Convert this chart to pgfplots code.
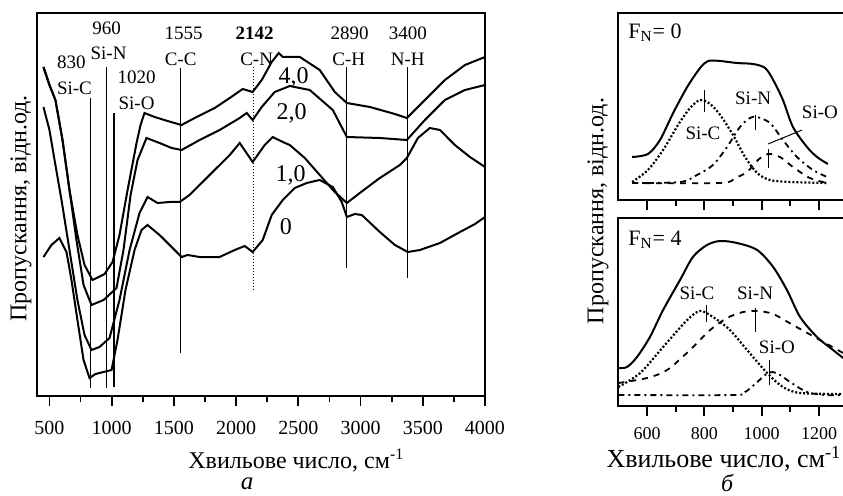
\documentclass[border=0pt]{standalone}
\usepackage{fontspec}
\setmainfont{Liberation Serif}
\usepackage{pgfplots}
\pgfplotsset{compat=1.18}

\newcommand\fa{\fontsize{9.5}{11}\selectfont}
\newcommand\fc{\fontsize{12}{14}\selectfont}

\pgfplotsset{
  spec/.style={
    scale only axis, clip=false,
    axis line style={line width=1pt},
    ytick=\empty, xtick pos=bottom, tick align=outside,
    major tick length=5pt, minor tick length=3pt,
    tick style={black, line width=0.9pt},
    /pgf/number format/assume math mode=true,
    /pgf/number format/1000 sep={},
  },
  cv/.style={black, solid, line width=1pt, no markers},
  mk/.style={black, solid, line width=0.5pt, no markers},
}

\begin{document}
\begin{tikzpicture}
\useasboundingbox (0,0) rectangle (421.5pt,247.5pt);

% ---------- panel a ----------
\begin{axis}[spec, at={(18.5pt,49.5pt)}, anchor=south west,
  width=224pt, height=191.5pt,
  xmin=400, xmax=4000, ymin=0, ymax=383,
  xtick={500,1000,...,4000}, minor x tick num=1,
  xticklabel style={yshift=-4pt},
  tick label style={font=\fontsize{10}{12}\selectfont}]

% band positions
\addplot[mk] coordinates {(830,8) (830,298)};
\addplot[mk] coordinates {(960,8) (960,329)};
\addplot[mk, line width=0.9pt] coordinates {(1020,9) (1020,283)};
\addplot[mk] coordinates {(1550,43) (1550,328)};
\addplot[mk, densely dotted] coordinates {(2140,106) (2140,329)};
\addplot[mk] coordinates {(2890,128) (2890,329)};
\addplot[mk] coordinates {(3380,118) (3380,329)};

% 4,0
\addplot[cv] coordinates {(452,329) (500,311) (548,296) (605,256) (661,206) (725,161)
 (782,131) (846,116) (943,122) (1007,134) (1063,161) (1128,206) (1200,253)
 (1232,271) (1264,283) (1345,279) (1449,275) (1562,271) (1667,278) (1828,288)
 (1949,298) (2053,307) (2133,304) (2206,316) (2286,334) (2343,343) (2375,339)
 (2512,339) (2672,326) (2793,304) (2890,293) (3075,289) (3276,282) (3372,278)
 (3517,296) (3678,316) (3839,331) (4000,339)};
% 2,0
\addplot[cv] coordinates {(452,329) (500,311) (548,296) (605,256) (661,206) (717,156)
 (774,111) (838,91) (935,96) (1039,108) (1095,146) (1152,201) (1208,236)
 (1280,258) (1385,253) (1482,248) (1562,246) (1707,256) (1868,266) (2029,278)
 (2085,283) (2133,276) (2206,289) (2310,304) (2431,310) (2592,306) (2777,286)
 (2890,259) (3155,258) (3372,256) (3517,276) (3678,296) (3839,306) (4000,311)};
% 1,0
\addplot[cv] coordinates {(452,289) (500,266) (548,231) (597,196) (661,146) (725,96)
 (782,61) (838,46) (902,49) (983,58) (1063,96) (1144,146) (1224,183) (1288,199)
 (1369,193) (1466,194) (1546,194) (1626,201) (1787,221) (1949,241) (2029,253)
 (2133,234) (2230,251) (2294,259) (2375,254) (2431,251) (2552,238) (2672,221)
 (2793,204) (2890,193) (2994,203) (3155,218) (3316,231) (3372,238) (3461,258)
 (3557,268) (3638,266) (3758,251) (3879,239) (4000,229)};
% 0
\addplot[cv] coordinates {(452,139) (516,151) (580,158) (637,144) (677,116) (725,76)
 (774,36) (822,18) (870,22) (934,24) (999,26) (1047,56) (1111,106) (1184,146)
 (1240,166) (1288,171) (1385,161) (1482,149) (1562,139) (1610,141) (1707,139)
 (1868,139) (1989,146) (2069,150) (2133,144) (2214,156) (2286,181) (2375,196)
 (2471,208) (2568,213) (2672,216) (2777,209) (2849,194) (2890,179) (2954,182)
 (3010,181) (3155,164) (3276,151) (3380,144) (3477,146) (3638,153) (3799,164)
 (3920,172) (4000,179)};

\node[font=\fa] at (axis cs:677,334) {830};
\node[font=\fa] at (axis cs:701,308) {Si-C};
\node[font=\fa] at (axis cs:959,368) {960};
\node[font=\fa] at (axis cs:975,343) {Si-N};
\node[font=\fa] at (axis cs:1200,319) {1020};
\node[font=\fa] at (axis cs:1200,293) {Si-O};
\node[font=\fa] at (axis cs:1578,363) {1555};
\node[font=\fa] at (axis cs:1554,337) {C-C};
\node[font=\fa\bfseries] at (axis cs:2149,363) {2142};
\node[font=\fa] at (axis cs:2165,337) {C-N};
\node[font=\fa] at (axis cs:2913,363) {2890};
\node[font=\fa] at (axis cs:2905,337) {C-H};
\node[font=\fa] at (axis cs:3380,363) {3400};
\node[font=\fa] at (axis cs:3380,337) {N-H};
\node[font=\fc] at (axis cs:2463,319) {4,0};
\node[font=\fc] at (axis cs:2447,283) {2,0};
\node[font=\fc] at (axis cs:2439,221) {1,0};
\node[font=\fc] at (axis cs:2399,169) {0};

\node[rotate=90, font=\fc] at ([xshift=-8pt]axis description cs:0,0.49) {Пропускання, відн.од.};
\node[font=\fc, anchor=base, inner sep=0pt] at ([yshift=-36pt]axis description cs:0.579,0) {Хвильове число, см\textsuperscript{-1}};
\node[font=\fontsize{12.5}{14}\selectfont\itshape, inner sep=0pt] at ([yshift=-44pt]axis description cs:0.469,0) {а};
\end{axis}

% ---------- panel b, F_N = 0 ----------
\begin{axis}[spec, at={(309.2pt,147.5pt)}, anchor=south west,
  width=114.65pt, height=93.5pt,
  xmin=500, xmax=1300, ymin=0, ymax=187,
  xtick={600,800,1000,1200}, minor x tick num=1, xticklabels={}]
\addplot[cv, smooth] coordinates {(548,43) (603,46) (645,60) (691,87) (740,113) (785,132)
 (813,139) (855,139) (914,137) (970,136) (1012,132) (1040,120) (1074,100)
 (1109,73) (1158,53) (1193,43) (1231,36)};
\addplot[cv, smooth, densely dotted, line width=1.1pt] coordinates {(548,18) (603,30) (656,50)
 (708,75) (750,92) (785,100) (820,96) (855,85) (900,65) (942,43) (984,27)
 (1029,20) (1099,18) (1231,17)};
\addplot[cv, smooth, dash dot, line width=0.9pt] coordinates {(548,17) (715,18) (774,25) (830,35) (879,53)
 (924,73) (959,82) (984,83) (1029,77) (1074,60) (1123,43) (1179,30) (1228,23)};
\addplot[cv, smooth, dashed, line width=0.9pt] coordinates {(548,17) (855,17) (907,22) (949,28) (987,40)
 (1022,46) (1064,43) (1109,33) (1168,22) (1228,17)};
\addplot[mk] coordinates {(799,88) (799,110)};
\addplot[mk] coordinates {(977,70) (977,85)};
\addplot[mk] coordinates {(1022,32) (1022,51)};
\addplot[mk] coordinates {(1022,56) (1141,70)};
\node[font=\fa] at (axis cs:795,67) {Si-C};
\node[font=\fa] at (axis cs:970,102) {Si-N};
\node[font=\fa] at (axis cs:1203,88) {Si-O};
\node[font=\fontsize{11}{13}\selectfont, anchor=west] at (axis cs:510,167) {F\textsubscript{N}= 0};
\end{axis}

% ---------- panel b, F_N = 4 ----------
\begin{axis}[spec, at={(309.2pt,44.5pt)}, anchor=south west,
  width=114.65pt, height=94pt,
  xmin=500, xmax=1300, ymin=0, ymax=188,
  xtick={600,800,1000,1200}, minor x tick num=1,
  xticklabel style={yshift=-2pt},
  tick label style={font=\fontsize{9}{11}\selectfont}]
\addplot[cv, smooth] coordinates {(500,38) (530,39) (565,49) (610,69) (656,96) (715,126)
 (760,149) (809,161) (855,165) (914,163) (984,156) (1040,139) (1088,116)
 (1134,89) (1193,69) (1249,56) (1284,48)};
\addplot[cv, smooth, densely dotted, line width=1.1pt] coordinates {(500,19) (576,33) (656,59)
 (740,86) (785,95) (830,89) (889,76) (949,56) (1019,33) (1074,19) (1134,13) (1284,12)};
\addplot[cv, smooth, dashed, line width=0.9pt] coordinates {(500,23) (600,28) (670,36) (750,56) (820,76)
 (879,88) (935,94) (984,95) (1040,92) (1109,81) (1203,66) (1284,53)};
\addplot[cv, smooth, dash dot, line width=0.9pt] coordinates {(500,11) (900,11) (942,14) (977,22) (1012,31)
 (1036,34) (1064,31) (1099,24) (1158,14) (1221,11) (1284,11)};
\addplot[mk] coordinates {(806,84) (806,101)};
\addplot[mk] coordinates {(980,74) (980,98)};
\addplot[mk] coordinates {(1026,21) (1026,46)};
\node[font=\fa] at (axis cs:774,113) {Si-C};
\node[font=\fa] at (axis cs:977,113) {Si-N};
\node[font=\fa] at (axis cs:1053,59) {Si-O};
\node[font=\fontsize{11}{13}\selectfont, anchor=west] at (axis cs:510,166) {F\textsubscript{N}= 4};

\node[rotate=90, font=\fc] at ([xshift=-10.2pt]axis description cs:0,1.037) {Пропускання, відн.од.};
\node[font=\fontsize{13}{15}\selectfont, anchor=base, inner sep=0pt] at ([yshift=-30.5pt]axis description cs:0.46,0) {Хвильове число, см\textsuperscript{-1}};
\node[font=\fontsize{12}{14}\selectfont\itshape, inner sep=0pt] at ([yshift=-38.5pt]axis description cs:0.474,0) {б};
\end{axis}
\end{tikzpicture}
\end{document}
